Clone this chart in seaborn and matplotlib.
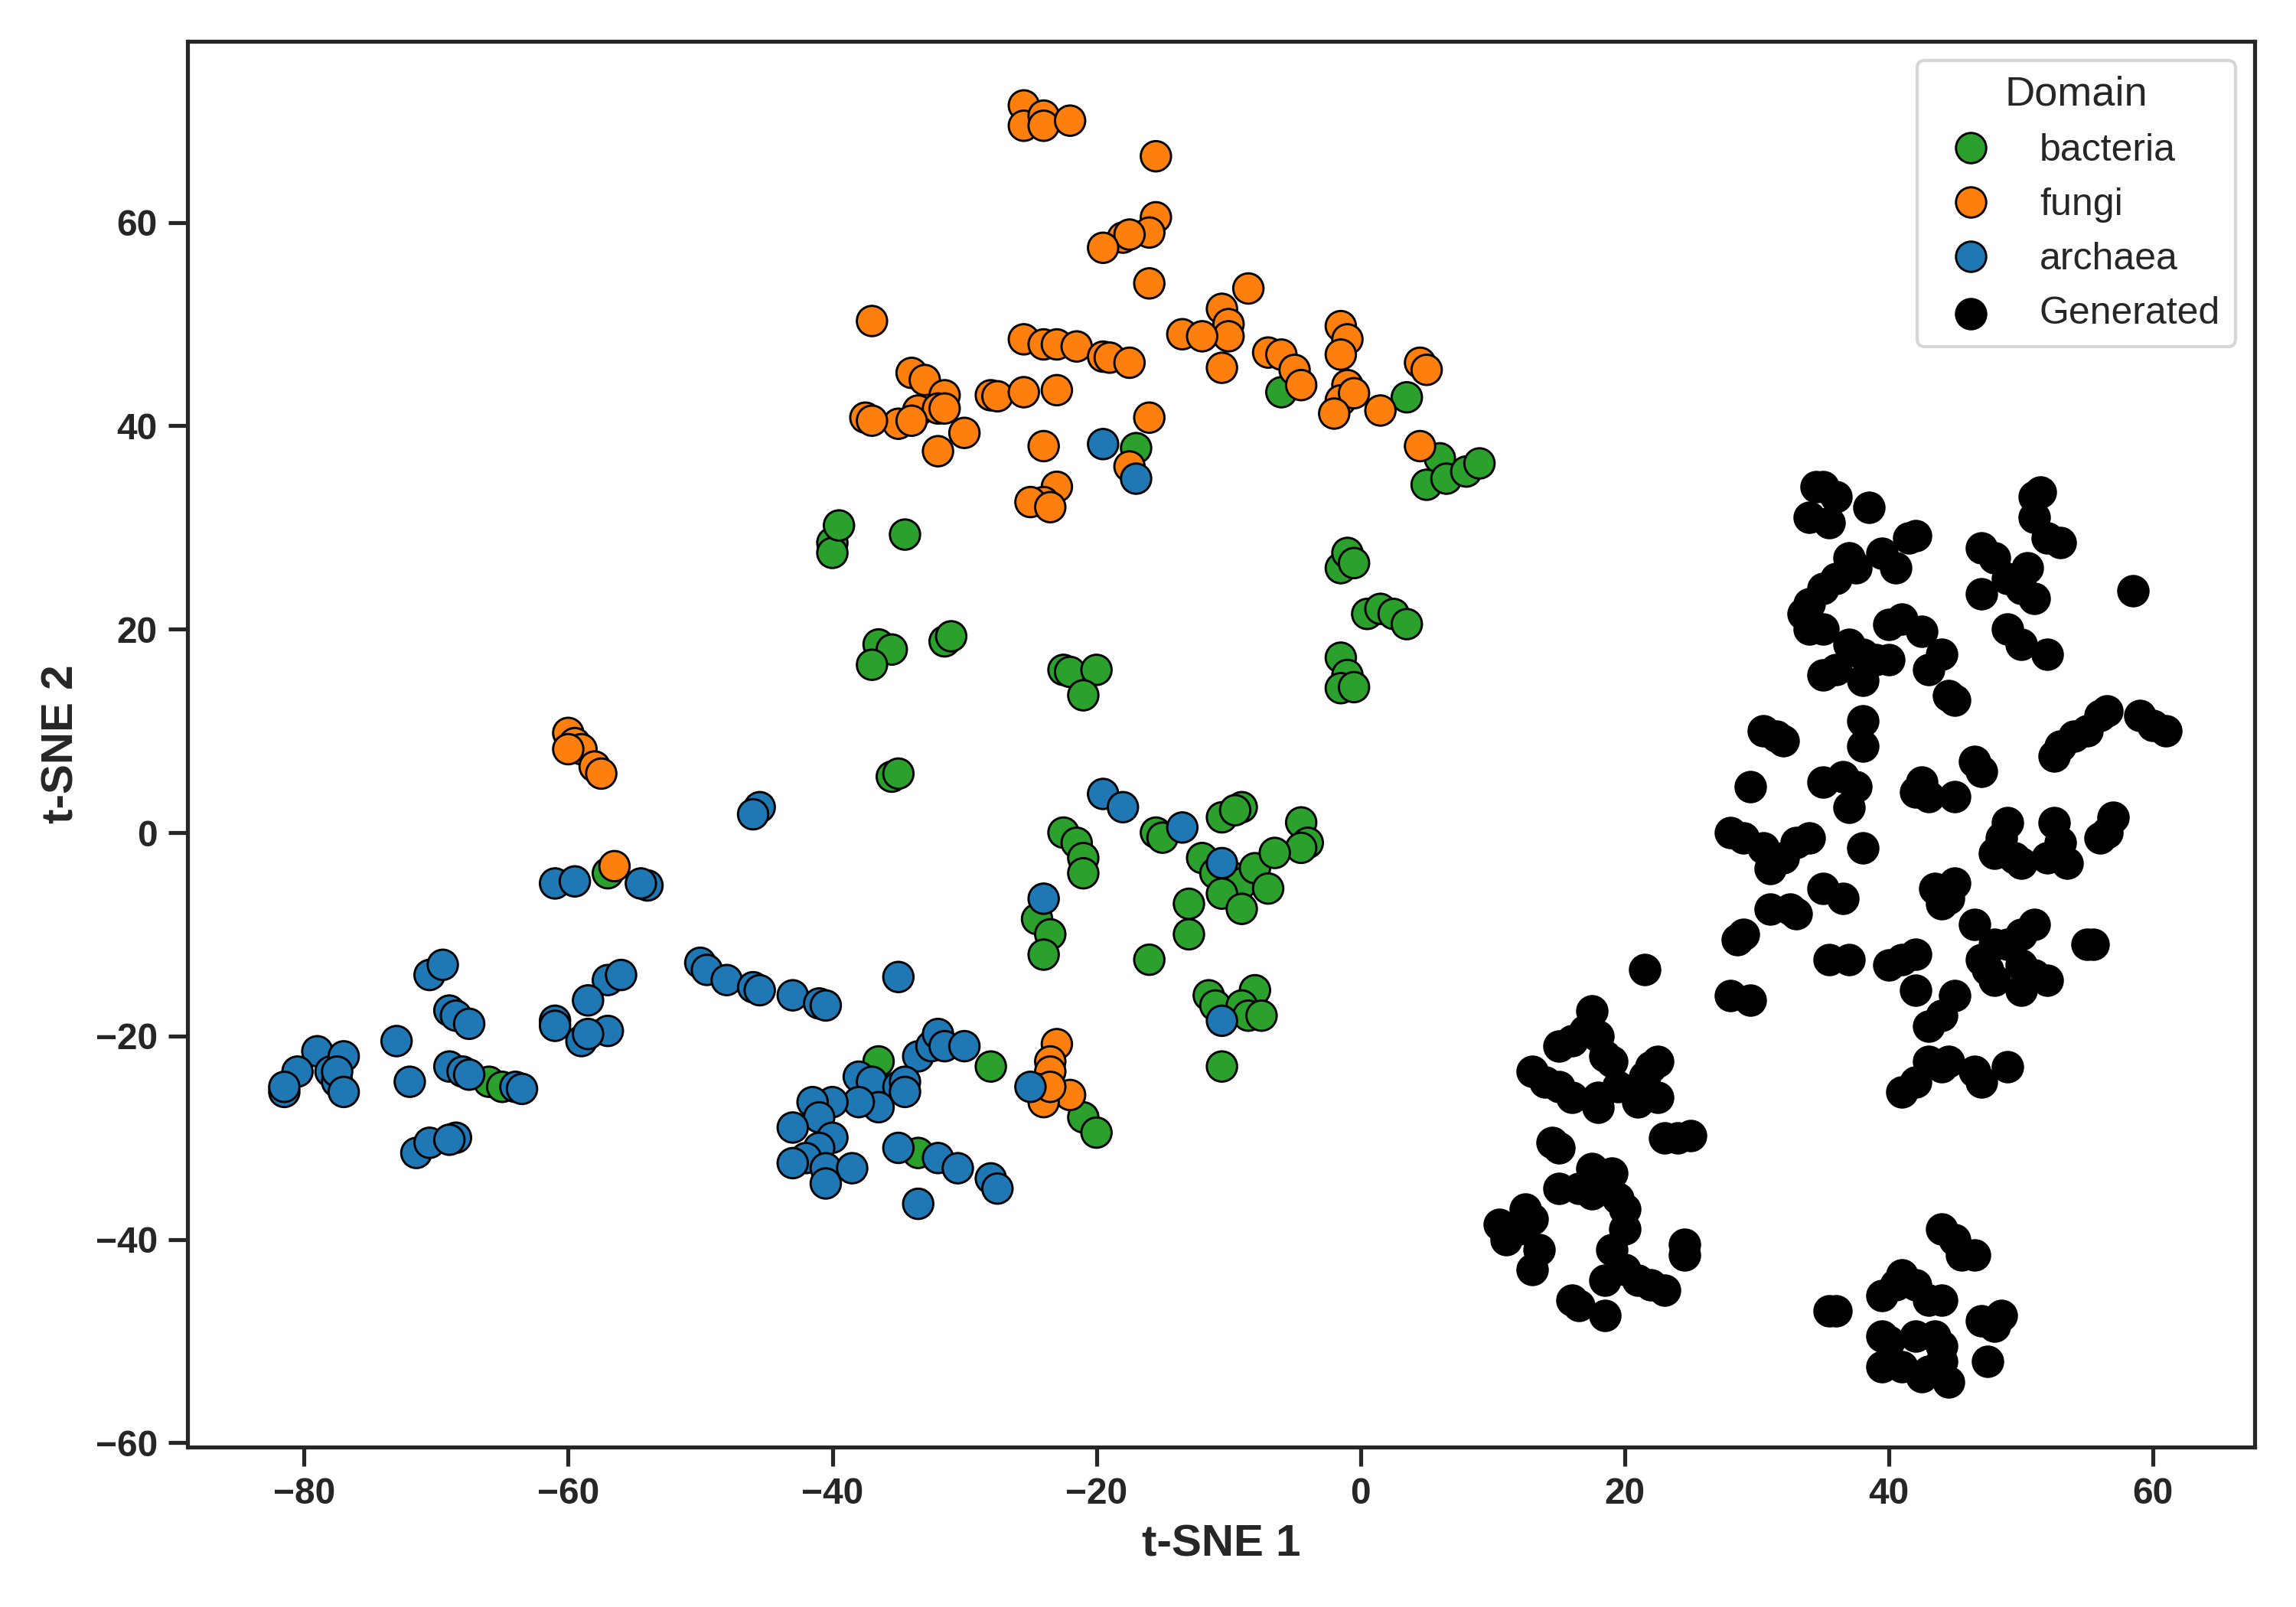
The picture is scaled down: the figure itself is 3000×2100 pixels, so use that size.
import numpy as np
import pandas as pd
import matplotlib
matplotlib.use("Agg")
import matplotlib.pyplot as plt
import seaborn as sns

fungi = [(-25.5,71.5),(-25.5,69.5),(-24,70.5),(-24,69.5),(-22,70),(-15.5,66.5),(-15.5,60.5),(-16,59),(-18,58.5),(-17.5,58.8),(-19.5,57.5),(-16,54),(-8.5,53.5),(-37,50.3),(-10.5,51.5),(-10,50),(-10,48.8),(-13.5,49),(-12,48.8),(-1.5,49.8),(-1,48.5),(-7,47.2),(-6,47),(-1.5,47),(-25.5,48.5),(-24,48),(-23,48),(-21.5,47.8),(-19.5,46.8),(-19,46.7),(-17.5,46.2),(-10.5,45.7),(-5,45.5),(-4.5,44),(4.5,46.2),(5,45.5),(-34,45.2),(-33,44.5),(-31.5,43),(-28,43),(-27.5,42.9),(-25.5,43.3),(-23,43.5),(-1,44),(-1.5,42.5),(-0.5,43.2),(1.5,41.5),(-2,41.2),(-33.5,41.5),(-32,41.7),(-31.5,41.7),(-35,40.2),(-34,40.5),(-37.5,40.8),(-37,40.5),(-30,39.3),(-32,37.5),(-24,38),(-16,40.8),(-17.5,36),(4.5,38),(-23,34),(-24,32.5),(-25,32.5),(-23.5,32),(-60,9.8),(-59.5,8.8),(-59,8.2),(-60,8.2),(-58,6.5),(-57.5,5.8),(-56.5,-3.3),(-23,-20.8),(-23.5,-22.5),(-23.5,-23.5),(-22,-25.8),(-24.5,-25.2),(-24,-26.5),(-23.5,-25)]

bacteria = [(-6,43.3),(3.5,42.8),(6,36.8),(5,34.2),(6.5,34.8),(8,35.5),(9,36.3),(-17,37.8),(-34.5,29.3),(-40,28.5),(-40,27.5),(-39.5,30.2),(-1.5,26),(-1,27.5),(-0.5,26.5),(0.5,21.5),(1.5,22),(2.5,21.5),(3.5,20.5),(-36.5,18.5),(-35.5,18),(-37,16.5),(-31.5,18.8),(-31,19.3),(-22.5,16),(-22,15.8),(-20,16),(-21,13.5),(-1.5,17.2),(-1,15.5),(-1.5,14.2),(-0.5,14.3),(-35.5,5.5),(-35,5.8),(-10.5,1.5),(-9,2.5),(-9.5,2.2),(-4.5,1),(-4,-1),(-4.5,-1.5),(-15.5,0),(-15,-0.5),(-22.5,0),(-21.5,-1),(-21,-2.5),(-21,-4),(-12,-2.5),(-11,-4),(-9.5,-4.5),(-9,-5),(-10.5,-6),(-8,-3.5),(-7,-5.5),(-6.5,-2),(-13,-7),(-9,-7.5),(-24.5,-8.5),(-23.5,-10),(-24,-12),(-13,-10),(-16,-12.5),(-11.5,-16),(-11,-17),(-8,-15.5),(-9,-17),(-8.5,-18),(-7.5,-18),(-10.5,-23),(-36.5,-22.5),(-28,-23),(-21,-28),(-20,-29.5),(-66,-24.5),(-65,-25),(-57,-4),(-33.5,-31.5)]

archaea = [(-19.5,38.2),(-17,34.8),(-45.5,2.5),(-46,1.8),(-19.5,3.8),(-18,2.5),(-13.5,0.5),(-10.5,-3),(-61,-5),(-59.5,-4.8),(-54,-5.2),(-54.5,-5),(-70.5,-14),(-69.5,-13),(-57,-14.5),(-56,-14),(-58.5,-16.5),(-69,-17.5),(-68.5,-18),(-67.5,-18.8),(-61,-18.5),(-61,-19),(-57,-19.5),(-59,-20.5),(-58.5,-19.8),(-73,-20.5),(-72,-24.5),(-69,-23),(-68,-23.5),(-67.5,-23.8),(-64,-25),(-63.5,-25.2),(-79,-21.5),(-80.5,-23.5),(-78,-23.5),(-77.5,-24.5),(-77,-22),(-77.5,-23.5),(-77,-25.5),(-81.5,-25.5),(-81.5,-25),(-71.5,-31.5),(-70.5,-30.5),(-68.5,-30),(-69,-30.2),(-50,-12.8),(-49.5,-13.5),(-48,-14.5),(-46,-15.2),(-45.5,-15.5),(-43,-16),(-41,-16.8),(-40.5,-17),(-35,-14.2),(-24,-6.5),(-10.5,-18.5),(-33.5,-22),(-32.5,-21),(-32,-19.8),(-31.5,-21),(-30,-21),(-38,-24),(-37,-24.5),(-35,-25),(-34.5,-24.5),(-36.5,-27),(-38,-26.5),(-40,-26.5),(-41.5,-26.5),(-41,-28),(-43,-29),(-40,-30),(-41,-31),(-42,-32),(-43,-32.5),(-40.5,-33),(-38.5,-33),(-40.5,-34.5),(-35,-31),(-32,-32),(-30.5,-33),(-33.5,-36.5),(-28,-34),(-27.5,-35),(-25,-25),(-34.5,-25.5)]

generated = [(35,34),(36,33),(35.5,30.5),(34,31),(38.5,32),(33.5,21.5),(34,22.5),(35,24),(36,25),(37,27),(37.5,26),(39.5,27.5),(40.5,26),(41.5,29),(42,29.2),(34,20),(35,20),(37,18.5),(38,17.5),(38,15),(39,17),(40,17),(40,20.5),(41,21),(42.5,19.8),(43,16),(44,17.5),(44.5,13.5),(45,13),(35,15.5),(36,16),(34.5,34),(51,33),(51.5,33.5),(51,31),(52,29),(53,28.5),(47,28),(48,27),(49,25),(47,23.5),(50,24),(51,23),(50.5,26),(49,20),(50,18.5),(52,17.5),(58.5,23.8),(30.5,10),(31.5,9.5),(32,9),(29.5,4.5),(35,5),(36.5,5.5),(37.5,4.5),(37,2.5),(38,11),(38,8.5),(42,4),(42.5,5),(43,3.5),(45,3.5),(46.5,7),(47,6),(49,1),(48.5,-0.5),(52.5,7.5),(53,8.5),(54,9.5),(55,10),(56,11.5),(56.5,12),(59,11.5),(60,10.5),(61,10),(56.5,0),(56,-0.5),(57,1.5),(52.5,1),(53,-1),(52,-2.5),(53.5,-3),(48,-2),(49.5,-2.5),(50,-3),(28,0),(29,-0.5),(30.5,-1.5),(31,-3.5),(32,-2.5),(33,-1),(34,-0.5),(38,-1.5),(35,-5.5),(36.5,-6.5),(31,-7.5),(32.5,-7.5),(33,-8),(29,-10),(28.5,-10.5),(35.5,-12.5),(37,-12.5),(40,-13),(41,-12.5),(42,-12),(43.5,-5.5),(44.5,-6.5),(45,-5),(44,-7),(46.5,-9),(48,-11),(49,-11),(50,-10),(51,-9),(50,-13),(48,-14.5),(47.5,-13.5),(47,-12.5),(50,-15.5),(51,-14),(52,-14.5),(55,-11),(55.5,-11),(42,-15.5),(45,-16),(44,-18),(43,-19),(43,-22.5),(44,-23),(44.5,-22.5),(46.5,-23.5),(47,-24.5),(49,-23),(41,-25.5),(42,-24.5),(28,-16),(29.5,-16.5),(21.5,-13.5),(17.5,-17.5),(17,-19.5),(16,-20.5),(15,-21),(18,-20),(18.5,-22),(19,-22.5),(19.5,-25),(18,-26),(18,-27),(16,-26),(15,-25),(13,-23.5),(14,-24.5),(22,-23),(22.5,-22.5),(21.5,-24),(21,-26.5),(22.5,-26),(23,-30),(24,-30),(25,-29.8),(14.5,-30.5),(15,-31),(17.5,-33),(18,-34),(19,-33.5),(16.5,-35),(15,-35),(17.5,-35.5),(19.5,-36),(20,-37),(20,-39),(19,-41),(10.5,-38.5),(11,-40),(12,-39),(12.5,-37),(13,-38),(13.5,-41),(13,-43),(16,-46),(16.5,-46.5),(18.5,-47.5),(18.5,-44),(20,-43),(21,-44),(22,-44.5),(23,-45),(24.5,-40.5),(24.5,-41.5),(35.5,-47),(36,-47),(39.5,-45.5),(40.5,-44.5),(41,-43.5),(42,-44.5),(43,-46),(44,-46),(44,-39),(45,-40),(45.5,-41.5),(46.5,-41.5),(47,-48),(48,-48.5),(48.5,-47.5),(47.5,-52),(39.5,-49.5),(39.5,-52.5),(41,-52.5),(42,-49.5),(42.5,-53.5),(43.5,-49.5),(44,-50.5),(44,-52),(44.5,-54),(43,-53),(40,-50)]

rows = []
for name, pts in [("bacteria", bacteria), ("fungi", fungi), ("archaea", archaea)]:
    for x, y in pts:
        rows.append((x, y, name))
real = pd.DataFrame(rows, columns=["x", "y", "Domain"])
gen = pd.DataFrame(generated, columns=["x", "y"])

sns.set_theme(style="ticks", font="Liberation Sans")

fig, ax = plt.subplots(figsize=(10, 7), dpi=300)
sns.scatterplot(data=real, x="x", y="y", hue="Domain",
                hue_order=["bacteria", "fungi", "archaea"],
                palette={"bacteria": "#2ca02c", "fungi": "#ff7f0e", "archaea": "#1f77b4"},
                s=90, edgecolor="black", linewidth=0.7, ax=ax, zorder=3)
ax.scatter(gen["x"], gen["y"], s=90, color="black", edgecolor="black",
           linewidth=0.7, label="Generated", zorder=3)

ax.set_xlim(-88.8, 67.7)
ax.set_ylim(-60.4, 77.8)
ax.set_xticks(range(-80, 61, 20))
ax.set_yticks(range(-60, 61, 20))
ax.set_xlabel("t-SNE 1", fontsize=14, fontweight="bold")
ax.set_ylabel("t-SNE 2", fontsize=14, fontweight="bold")
for lab in ax.get_xticklabels() + ax.get_yticklabels():
    lab.set_fontweight("bold")
    lab.set_fontsize(11.5)
leg = ax.legend(title="Domain", loc="upper right", fontsize=12, title_fontsize=13,
                frameon=True)
plt.tight_layout()
fig.savefig("out.png", dpi=300)
